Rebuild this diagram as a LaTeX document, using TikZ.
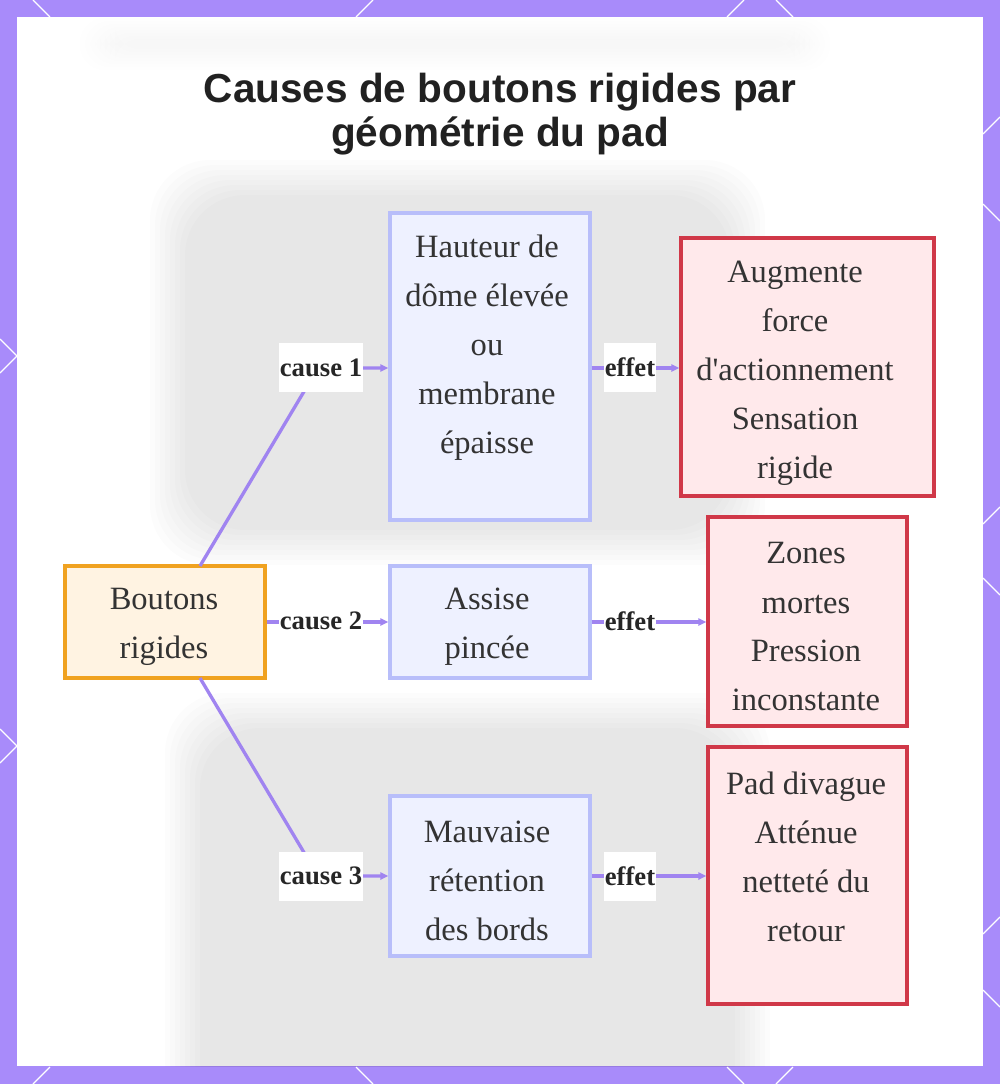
\documentclass[tikz,border=0pt]{standalone}
\usepackage{fontspec}
\setmainfont{Liberation Serif}[Ligatures=TeXOff]
\newfontfamily\titlefont{Liberation Sans}
\usetikzlibrary{arrows.meta}
\definecolor{framecol}{RGB}{168,139,250}
\definecolor{conncol}{RGB}{160,132,240}
\definecolor{txtcol}{RGB}{51,51,51}
\definecolor{bluefill}{RGB}{238,241,255}
\definecolor{blueline}{RGB}{184,190,250}
\definecolor{orgfill}{RGB}{255,243,226}
\definecolor{orgline}{RGB}{240,162,32}
\definecolor{redfill}{RGB}{255,233,235}
\definecolor{redline}{RGB}{208,56,72}
\tikzset{
  basebox/.style={rectangle, inner sep=0pt, line width=2.6pt},
  causebox/.style={basebox, fill=bluefill, draw=blueline, minimum width=150pt},
  rootbox/.style={basebox, fill=orgfill, draw=orgline, minimum width=150pt},
  effbox/.style={basebox, fill=redfill, draw=redline},
  boxtext/.style={align=center, text=txtcol, inner sep=0pt,
    font=\fontsize{24.4pt}{36.75pt}\selectfont},
  edgelabel/.style={fill=white, text=black!85, inner sep=0pt,
    minimum height=36.75pt, font=\fontsize{20pt}{24pt}\selectfont\bfseries},
  conn/.style={draw=conncol, line width=2.5pt, -{Triangle[length=6pt,width=5.5pt]}},
  lattice/.style={draw=white, line width=0.9pt},
  fob/.style={fill=black, opacity=0.013, rounded corners=45pt}
}
\begin{document}
\begin{tikzpicture}[x=0.75pt,y=-0.75pt]
\useasboundingbox (0,0) rectangle (1000,1084);
% frame
\fill[framecol] (0,0) rectangle (1000,1084);
\draw[lattice] (33,0) -- (50,17);
\draw[lattice] (373,0) -- (356,17);
\draw[lattice] (744,0) -- (727,17);
\draw[lattice] (776,0) -- (793,17);
\draw[lattice] (0,339) -- (17,356) -- (0,373);
\draw[lattice] (0,729) -- (17,746) -- (0,763);
\draw[lattice] (1000,117) -- (983,134);
\draw[lattice] (983,204) -- (1000,221);
\draw[lattice] (1000,507) -- (983,524);
\draw[lattice] (983,578) -- (1000,595);
\draw[lattice] (1000,917) -- (983,934);
\draw[lattice] (983,990) -- (1000,1007);
\draw[lattice] (33,1084) -- (50,1067);
\draw[lattice] (356,1067) -- (373,1084);
\draw[lattice] (727,1067) -- (744,1084);
\draw[lattice] (776,1084) -- (793,1067);
\fill[white] (17,17) rectangle (983,1066);
% blurred background
\begin{scope}
\clip (17,17) rectangle (983,1066);
\foreach \i in {0,...,7} {
  \fill[fob] (150+5*\i,160+5*\i) rectangle (765-5*\i,565-5*\i);
  \fill[fob] (165+5*\i,693+5*\i) rectangle (770-5*\i,1120);
  \fill[black, opacity=0.005, rounded corners=18pt] (80+5*\i,18+3*\i) rectangle (830-5*\i,70-3*\i);
}
\end{scope}
% title
\node[align=center, text=black!87, inner sep=0pt,
  font=\titlefont\bfseries\fontsize{30.4pt}{33pt}\selectfont] (title) at (500,114)
  {Causes de boutons rigides par\\g\'eom\'etrie du pad};
% boxes
\node[rootbox, minimum height=84pt] (bout) at (165,622) {};
\node[causebox, minimum height=230.25pt] (c1) at (490,366.5) {};
\node[causebox, minimum height=84pt] (c2) at (490,622) {};
\node[causebox, minimum height=120pt] (c3) at (490,876) {};
\node[effbox, minimum width=189.75pt, minimum height=193.5pt] (e1) at (807.5,367) {};
\node[effbox, minimum width=149.25pt, minimum height=156.75pt] (e2) at (807.5,621.5) {};
\node[effbox, minimum width=149.25pt, minimum height=192.75pt] (e3) at (807.5,875.5) {};
% texts
\node[boxtext] (tbout) at (164,627) {Boutons\\rigides};
\node[boxtext] (tc1) at (487,348) {Hauteur de\\d\^ome \'elev\'ee\\ou\\membrane\\\'epaisse};
\node[boxtext] (tc2) at (487,627) {Assise\\pinc\'ee};
\node[boxtext] (tc3) at (487,881) {Mauvaise\\r\'etention\\des bords};
\node[boxtext] (te1) at (795,373) {Augmente\\force\\d'actionnement\\Sensation\\rigide};
\node[boxtext] (te2) at (806,627) {Zones\\mortes\\Pression\\inconstante};
\node[boxtext] (te3) at (806,857) {Pad divague\\Att\'enue\\nettet\'e du\\retour};
% connectors
\coordinate (s1) at (200,566);
\coordinate (k1) at (318,368);
\coordinate (s3) at (200,678);
\coordinate (k3) at (318,876);
\draw[conn] (s1) -- (k1) -- (c1.west |- k1);
\draw[conn] (bout.east) -- (c2.west);
\draw[conn] (s3) -- (k3) -- (c3.west |- k3);
\draw[conn] (c1.east |- k1) -- (e1.west |- k1);
\draw[conn] (c2.east) -- (e2.west |- c2.east);
\draw[conn] (c3.east |- k3) -- (e3.west |- k3);
% labels
\node[edgelabel, minimum width=63pt] (l1) at (321,367.5) {cause 1};
\node[edgelabel, minimum width=63pt] (l2) at (321,621) {cause 2};
\node[edgelabel, minimum width=63pt] (l3) at (321,876) {cause 3};
\node[edgelabel, minimum width=39pt] (f1) at (630,367.5) {effet};
\node[edgelabel, minimum width=39pt] (f2) at (630,621) {effet};
\node[edgelabel, minimum width=39pt] (f3) at (630,876) {effet};
\end{tikzpicture}
\end{document}
